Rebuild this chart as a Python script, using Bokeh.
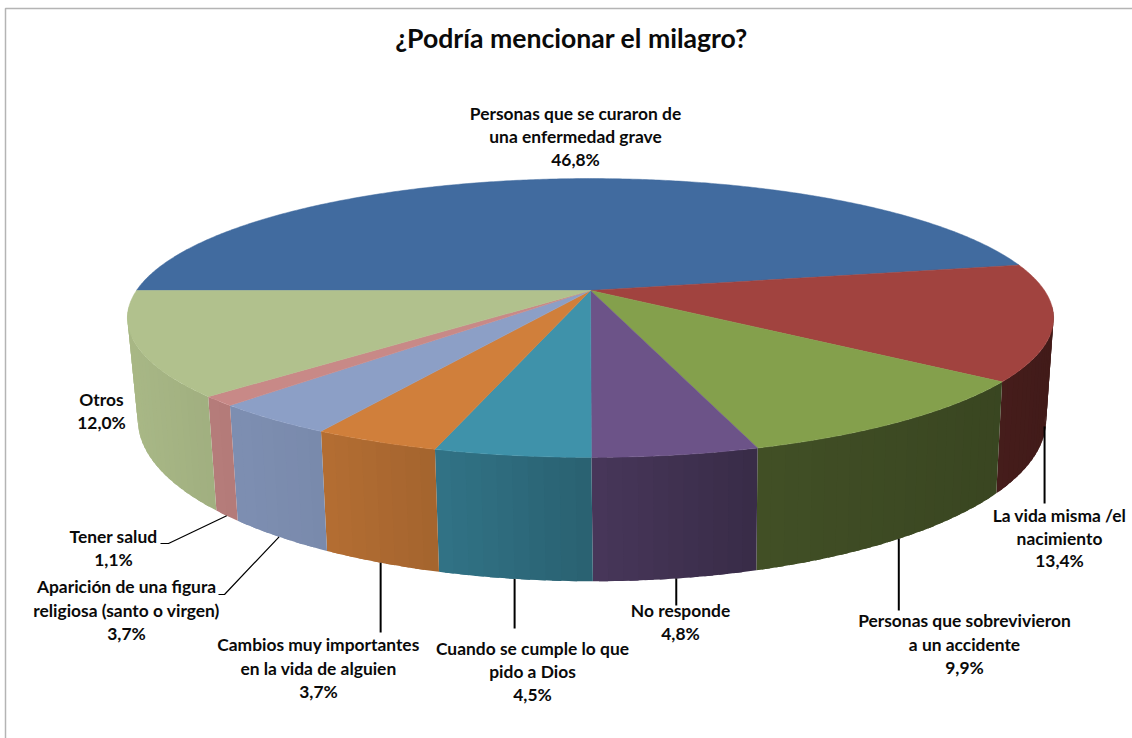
import numpy as np
from bokeh.plotting import figure
from bokeh.core.properties import value
from bokeh.embed import file_html
from bokeh.resources import INLINE

title = "¿Podría mencionar el milagro?"
categories = [
    "Personas que se curaron de\nuna enfermedad grave",
    "La vida misma /el\nnacimiento",
    "Personas que sobrevivieron\na un accidente",
    "No responde",
    "Cuando se cumple lo que\npido a Dios",
    "Cambios muy importantes\nen la vida de alguien",
    "Aparición de una figura\nreligiosa (santo o virgen)",
    "Tener salud",
    "Otros",
]
values = [46.8, 13.4, 9.9, 4.8, 4.5, 3.7, 3.7, 1.1, 12.0]
colors = ["#416B9F", "#A1433F", "#84A04C", "#6C5388", "#3F92AA",
          "#D07F3B", "#8C9FC6", "#C88987", "#B1C18D"]

W, H = 1132, 738
p = figure(width=W, height=H, x_range=(0, W), y_range=(H, 0),
           toolbar_location=None, output_backend="svg", min_border=0,
           outline_line_color=None, background_fill_color="white")
p.axis.visible = False
p.grid.visible = False

CX = 590.0


def project(theta, plane):
    """theta in degrees clockwise from the left-most point of the pie."""
    t = np.radians(theta)
    x, y = -np.cos(t), -np.sin(t)
    if plane == "top":
        cx, A, B, k, y0 = CX, 454.0, 134.0, 0.197, 290.0
    else:
        cx, A, B, k, y0 = CX + 1.5, 445.0, 155.0, 0.200, 387.0
    w = 1 - k * y
    return cx + A * x / w, y0 + B * y / w, y


def shade(hexcol, f):
    r, g, b = (int(hexcol[i:i + 2], 16) for i in (1, 3, 5))
    return "#%02x%02x%02x" % (int(r * f), int(g * f), int(b * f))


total = sum(values)
edges = np.concatenate([[0], np.cumsum(values)]) / total * 360.0
SHADE_X = [134, 230, 320, 440, 590, 757, 760, 996, 1046]
SHADE_F = [0.95, 0.90, 0.87, 0.79, 0.67, 0.53, 0.50, 0.44, 0.41]

# side wall: bands drawn from the outside in, each one overlapping the next
sx, sy, sc = [], [], []
for v0, v1, col in zip(edges[:-1], edges[1:], colors):
    n = max(2, int((v1 - v0) / 1.5))
    ts = np.linspace(v0, v1, n + 1)
    for a, b in zip(ts[:-1], ts[1:]):
        ta = np.linspace(a, min(b + (v1 - v0) / n * 0.6, v1), 4)
        xt, yt, dt = project(ta, "top")
        xb, yb, _ = project(ta[::-1], "bottom")
        if dt.min() < 0.1:
            continue
        sx.append(np.concatenate([xt, xb]))
        sy.append(np.concatenate([yt, yb]))
        sc.append(shade(col, float(np.interp(xt[:2].mean(), SHADE_X, SHADE_F))))
p.patches(sx, sy, fill_color=sc, line_color=None)

# top face
for v0, v1, col in zip(edges[:-1], edges[1:], colors):
    ts = np.linspace(v0, v1, max(3, int((v1 - v0) * 2)))
    x, y, _ = project(ts, "top")
    p.patch(np.concatenate([[CX], x]), np.concatenate([[290.0], y]),
            fill_color=col, line_color=col, line_width=0.5)

# labels: (centre x, first line y, line spacing)
layout = [(575, 113, 23), (1059, 515, 22.5), (964, 620, 23.5), (680, 610, 23),
          (532, 648, 23), (318, 644, 23.5), (126, 586, 23.5), (113, 536, 23),
          (101, 399, 23)]
tx, ty, tt = [], [], []
for cat, val, (cx, y0, dy) in zip(categories, values, layout):
    lines = cat.split("\n") + [f"{val:.1f}%".replace(".", ",")]
    for i, s in enumerate(lines):
        tx.append(cx)
        ty.append(y0 + i * dy)
        tt.append(s)
p.text(tx, ty, text=tt, text_font=value("Lato"), text_font_style="bold",
       text_font_size="17.4px", text_color="#0a0a0a",
       text_align="center", text_baseline="middle")
p.text([571], [37], text=[title], text_font=value("Lato"), text_font_style="bold",
       text_font_size="26.6px", text_color="#0a0a0a",
       text_align="center", text_baseline="middle")

# leader lines, from the middle of each slice's outer wall
mids = (edges[:-1] + edges[1:]) / 2
ends = {1: [(None, 503)], 2: [(None, 610)], 3: [(None, 605)], 4: [(None, 628)],
        5: [(None, 632)], 6: [(224, 594), (218, 594)], 7: [(168, 543), (160, 543)]}
for i, tail in ends.items():
    bx, by, _ = project(mids[i], "bottom")
    if i == 1:
        bx, by = bx - 1.5, by + 3
    xs, ys = [float(bx)], [float(by)]
    for tx_, ty_ in tail:
        xs.append(float(bx) if tx_ is None else tx_)
        ys.append(ty_)
    p.line(xs, ys, line_color="black", line_width=2 if i < 6 else 1.2)

# chart frame
p.line([5, 5, W], [H, 8, 8], line_color="#B4B4B4", line_width=1.5)

open("out.html", "w").write(file_html(p, INLINE))
